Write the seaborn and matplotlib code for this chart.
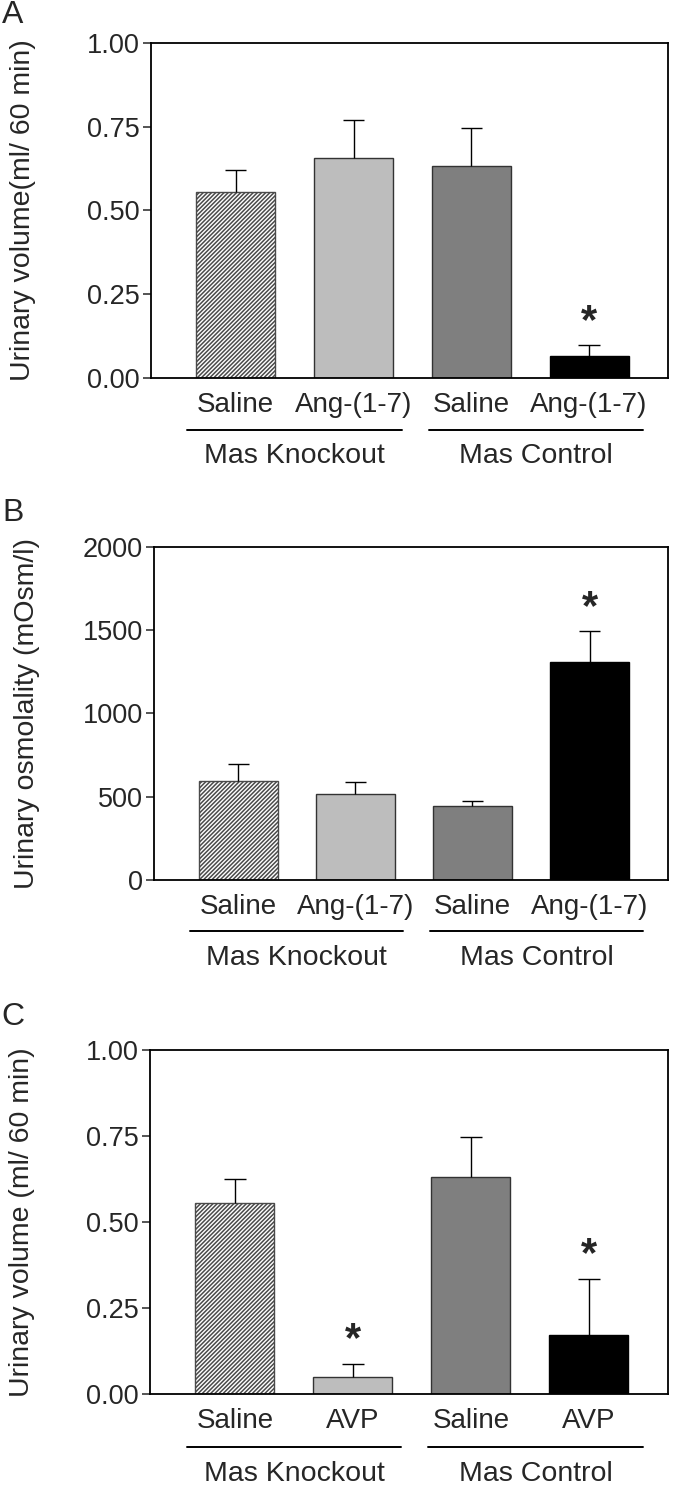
import numpy as np
import pandas as pd
import matplotlib
matplotlib.use('Agg')
import matplotlib.pyplot as plt
import seaborn as sns

# data (mean, upper SEM)
groups = ['Mas Knockout', 'Mas Control']
bar_ids = ['ko_saline', 'ko_drug', 'ctl_saline', 'ctl_drug']
labels_ang = ['Saline', 'Ang-(1-7)', 'Saline', 'Ang-(1-7)']
labels_avp = ['Saline', 'AVP', 'Saline', 'AVP']

vol_ang_mean = [0.555, 0.658, 0.634, 0.066]
vol_ang_sem = [0.065, 0.113, 0.112, 0.031]
vol_ang_sig = [False, False, False, True]

osm_ang_mean = [595, 515, 443, 1311]
osm_ang_sem = [100, 76, 34, 182]
osm_ang_sig = [False, False, False, True]

vol_avp_mean = [0.554, 0.050, 0.631, 0.172]
vol_avp_sem = [0.070, 0.037, 0.115, 0.162]
vol_avp_sig = [False, True, False, True]

bar_colors = ['white', '#bdbdbd', '#7f7f7f', '#000000']

sns.set_style('white')
plt.rcParams['font.family'] = ['Liberation Sans', 'DejaVu Sans']
plt.rcParams['hatch.linewidth'] = 1.1


def panel(ax, means, sems, sig, xlabels, yticks, yfmt, ylabel, letter, letter_y):
    df = pd.DataFrame({'bar': bar_ids, 'val': means})
    sns.barplot(data=df, x='bar', y='val', hue='bar', palette=bar_colors, legend=False,
                order=bar_ids, width=0.67, edgecolor='#333333', linewidth=1.0, ax=ax)
    ax.patches[0].set_hatch('////////')
    ax.patches[0].set_edgecolor('#4a4a4a')
    ax.patches[3].set_edgecolor('black')

    x = np.arange(len(means))
    top = np.array(means) + np.array(sems)
    ax.vlines(x, means, top, color='black', lw=1.0, zorder=3)
    ax.hlines(top, x - 0.09, x + 0.09, color='black', lw=1.0, zorder=3)
    for xi, t, s in zip(x, top, sig):
        if s:
            ax.annotate('*', (xi, t), xytext=(0, 17), textcoords='offset points',
                        ha='center', va='center', fontsize=30, fontweight='bold')

    ax.set_xlim(-0.72, 3.67)
    ax.set_ylim(yticks[0], yticks[-1])
    ax.set_yticks(yticks)
    ax.set_yticklabels([yfmt.format(v) for v in yticks])
    ax.set_xticks(x)
    ax.set_xticklabels(xlabels)
    ax.tick_params(axis='x', length=0, pad=10, labelsize=20)
    ax.tick_params(axis='y', length=6, width=1.1, pad=2, labelsize=19.5, direction='out', left=True)
    for sp in ax.spines.values():
        sp.set_visible(True)
        sp.set_linewidth(1.3)
        sp.set_color('black')
    ax.set_xlabel('')
    ax.set_ylabel(ylabel, fontsize=20.5)
    ax.yaxis.set_label_coords(-0.222, 0.5)

    trans = ax.get_xaxis_transform()
    for gx, name in zip([0.5, 2.55], groups):
        ax.plot([gx - 0.91, gx + 0.91], [-0.154, -0.154], color='black', lw=1.4,
                transform=trans, clip_on=False)
        ax.text(gx, -0.233, name, transform=trans, ha='center', va='center', fontsize=20.5)

    fig.text(13 / 683, letter_y, letter, ha='center', va='center', fontsize=23)


fig = plt.figure(figsize=(6.83, 14.88), dpi=100)
ax_a = fig.add_axes([0.221, 0.746, 0.757, 0.2251])
ax_b = fig.add_axes([0.2255, 0.4086, 0.7525, 0.2238])
ax_c = fig.add_axes([0.2196, 0.0632, 0.7584, 0.2312])

panel(ax_a, vol_ang_mean, vol_ang_sem, vol_ang_sig, labels_ang,
      [0, 0.25, 0.5, 0.75, 1.0], '{:.2f}', 'Urinary volume(ml/ 60 min)', 'A', 1 - 15 / 1488)
panel(ax_b, osm_ang_mean, osm_ang_sem, osm_ang_sig, labels_ang,
      [0, 500, 1000, 1500, 2000], '{:.0f}', 'Urinary osmolality (mOsm/l)', 'B', 1 - 513 / 1488)
panel(ax_c, vol_avp_mean, vol_avp_sem, vol_avp_sig, labels_avp,
      [0, 0.25, 0.5, 0.75, 1.0], '{:.2f}', 'Urinary volume (ml/ 60 min)', 'C', 1 - 1017 / 1488)

fig.savefig('out.png', dpi=100)
